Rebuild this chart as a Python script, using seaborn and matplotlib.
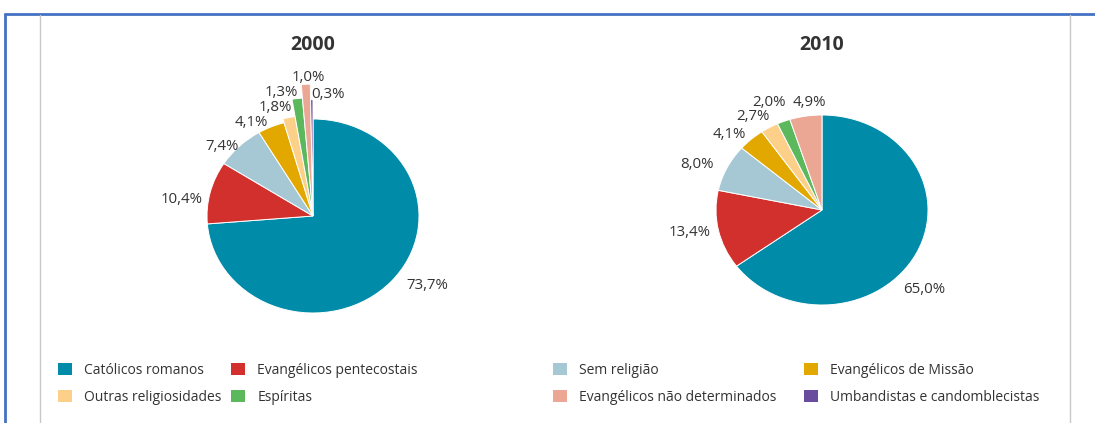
import matplotlib
matplotlib.use("Agg")
import matplotlib.pyplot as plt
import seaborn as sns
import numpy as np
from matplotlib.lines import Line2D
from matplotlib.patches import Patch

sns.set_theme(style="white")
plt.rcParams["font.family"] = ["Open Sans", "DejaVu Sans"]

# categories in clockwise order from the top
categories = ["Católicos romanos", "Evangélicos pentecostais", "Sem religião",
              "Evangélicos de Missão", "Outras religiosidades", "Espíritas",
              "Evangélicos não determinados", "Umbandistas e candomblecistas"]
values_2000 = [73.7, 10.4, 7.4, 4.1, 1.8, 1.3, 1.0, 0.3]
values_2010 = [65.0, 13.4, 8.0, 4.1, 2.7, 2.0, 4.9, 0.0]
years = ["2000", "2010"]

palette = sns.color_palette(["#008ba8", "#d2302c", "#a5c8d4", "#e2a800",
                             "#fcd089", "#5cb85c", "#eba793", "#6a4c9c"])
text_color = "#333333"

# wedge radius, label radius and label angle shift (styling per slice)
wedge_r = {"2000": [1, 1, 1, 1, 1.04, 1.22, 1.36, 1.2],
           "2010": [1, 1, 1, 1, 1, 1, 1, 1]}
label_r = {"2000": [1.30, 1.25, 1.12, 1.13, 1.17, 1.31, 1.43, 1.26],
           "2010": [1.28, 1.27, 1.27, 1.18, 1.18, 1.24, 1.14, 1.2]}
label_shift = {"2000": [9, 6, 6, 8, 5, 6, -1, -7],
               "2010": [-14, -1.5, 4, 6, 4, 2.5, -3, 0]}

W, H = 1095, 423
fig = plt.figure(figsize=(W / 100, H / 100), dpi=100)

# pie centre (px) and radii (px) - the original is slightly stretched
layout = {"2000": (313, 216, 106, 97), "2010": (822, 210, 106, 95)}

for year, vals in zip(years, [values_2000, values_2010]):
    cx, cy, rx, ry = layout[year]
    ax = fig.add_axes([(cx - 2 * rx) / W, (H - cy - 2 * ry) / H,
                       4 * rx / W, 4 * ry / H])
    vals_arr = np.array(vals)
    keep = vals_arr > 0
    wedges, _ = ax.pie(vals_arr[keep], colors=[c for c, k in zip(palette, keep) if k],
                       startangle=90, counterclock=False,
                       wedgeprops=dict(edgecolor="white", linewidth=0.7))
    radii = [r for r, k in zip(wedge_r[year], keep) if k]
    for w, r in zip(wedges, radii):
        w.set_radius(r)
    # labels
    total = vals_arr[keep].sum()
    cum = np.cumsum(np.concatenate([[0], vals_arr[keep]]))
    idx = np.where(keep)[0]
    for j, i in enumerate(idx):
        mid = (cum[j] + cum[j + 1]) / 2 / total * 360
        ang = np.deg2rad(90 - mid + label_shift[year][i])
        lr = label_r[year][i]
        ax.text(lr * np.cos(ang), lr * np.sin(ang),
                f"{vals[i]:.1f}%".replace(".", ","),
                ha="center", va="center", fontsize=10.8, color=text_color)
    ax.set_aspect("auto")
    ax.set_xlim(-2, 2)
    ax.set_ylim(-2, 2)
    ax.axis("off")
    fig.text(cx / W, 1 - 45 / H, year, ha="center", va="center",
             fontsize=14, fontweight="bold", color=text_color)

# legend: four columns of two entries
legend_cols = [[0, 4], [1, 5], [2, 6], [3, 7]]
col_x = [58, 231, 553, 804]
for cols, x in zip(legend_cols, col_x):
    handles = [Patch(facecolor=palette[i], edgecolor="none", label=categories[i]) for i in cols]
    fig.legend(handles=handles, loc="upper left", bbox_to_anchor=(x / W, 1 - 363 / H),
               frameon=False, fontsize=10, handlelength=1.0, handleheight=1.0,
               handletextpad=0.9, labelspacing=0.85, borderpad=0, borderaxespad=0,
               labelcolor=text_color)

# frame lines
fig.add_artist(Line2D([5 / W, 1], [1 - 14 / H] * 2, color="#4472c4", lw=2, transform=fig.transFigure))
fig.add_artist(Line2D([5 / W] * 2, [0, 1 - 14 / H], color="#4472c4", lw=2, transform=fig.transFigure))
for gx in [40, 1070]:
    fig.add_artist(Line2D([gx / W] * 2, [0, 1 - 15 / H], color="#c8c8c8", lw=1, transform=fig.transFigure))

fig.savefig("out.png", dpi=100)
